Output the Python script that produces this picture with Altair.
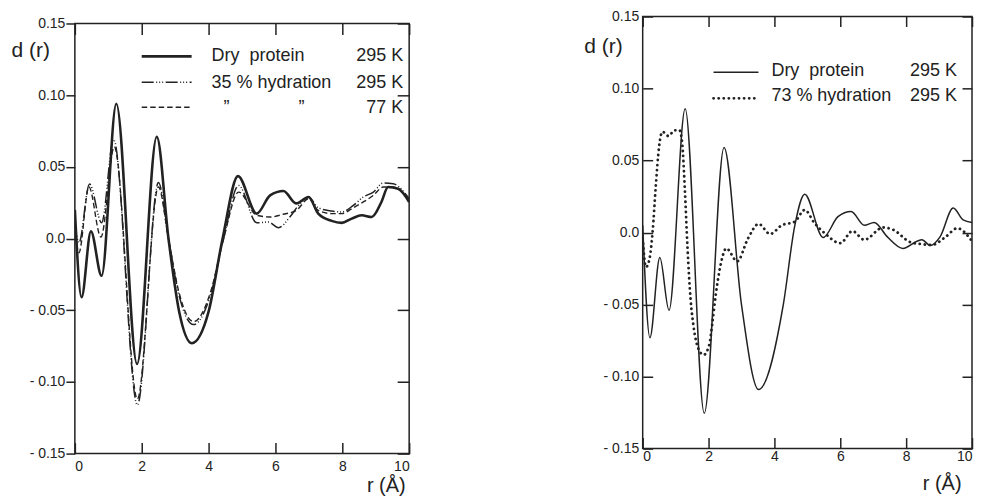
import altair as alt
import pandas as pd

# ---------------- data ----------------
# Left panel
left_dry_r = [0.0, 0.2, 0.48, 0.8, 1.24, 1.86, 2.45, 2.8, 3.12, 3.5, 4.0, 4.42, 4.88,
              5.44, 5.84, 6.24, 6.62, 6.99, 7.28, 7.68, 7.98, 8.28, 8.58, 8.88, 9.17,
              9.37, 9.67, 10.0]
left_dry_d = [0.020, -0.041, 0.005, -0.026, 0.094, -0.0875, 0.071, 0.0, -0.051, -0.073,
              -0.051, 0.0, 0.0435, 0.0174, 0.0301, 0.0331, 0.0245, 0.029, 0.0174, 0.0123,
              0.0109, 0.0139, 0.0162, 0.015, 0.0255, 0.0359, 0.0347, 0.0255]

left_h295_r = [0.0, 0.12, 0.44, 0.8, 1.16, 1.87, 2.5, 2.8, 3.12, 3.55, 4.05, 4.45, 4.9,
               5.44, 5.79, 6.09, 6.43, 6.69, 6.99, 7.28, 7.68, 7.98, 8.33, 8.63, 8.93,
               9.22, 9.52, 10.0]
left_h295_d = [0.012, -0.003, 0.038, 0.011, 0.069, -0.116, 0.039, 0.0, -0.040, -0.060,
               -0.040, 0.0, 0.037, 0.011, 0.0115, 0.0076, 0.015, 0.023, 0.029, 0.0215,
               0.0192, 0.0185, 0.0231, 0.029, 0.0324, 0.0387, 0.0382, 0.0278]

left_h77_r = [0.0, 0.12, 0.42, 0.78, 1.18, 1.87, 2.5, 2.8, 3.12, 3.55, 4.05, 4.45, 4.9,
              5.44, 5.84, 6.23, 6.63, 6.99, 7.28, 7.68, 7.98, 8.33, 8.63, 8.93, 9.22,
              9.52, 10.0]
left_h77_d = [0.008, -0.010, 0.036, 0.001, 0.064, -0.112, 0.036, 0.0, -0.038, -0.058,
              -0.038, 0.0, 0.0324, 0.0162, 0.015, 0.0169, 0.0197, 0.0278, 0.0197, 0.0174,
              0.0174, 0.0215, 0.0255, 0.0301, 0.0359, 0.0359, 0.0266]

# Right panel
right_dry_r = [0.0, 0.22, 0.52, 0.8, 1.29, 1.87, 2.47, 3.0, 3.52, 4.27, 4.62, 4.92, 5.48,
               5.93, 6.33, 6.73, 7.03, 7.43, 7.9, 8.33, 8.48, 8.73, 9.03, 9.43, 9.73, 10.0]
right_dry_d = [0.005, -0.073, -0.0174, -0.054, 0.086, -0.1255, 0.059, -0.05, -0.109, -0.05,
               0.005, 0.0266, -0.0035, 0.011, 0.0146, 0.005, 0.007, -0.003, -0.011, -0.006,
               -0.005, -0.009, -0.003, 0.017, 0.0088, 0.007]

right_h73_r = [0.0, 0.1, 0.2, 0.3, 0.4, 0.5, 0.6, 0.78, 0.97, 1.12, 1.2, 1.28, 1.36, 1.45,
               1.55, 1.68, 1.85, 2.02, 2.12, 2.22, 2.37, 2.54, 2.87, 3.2, 3.52, 3.87, 4.22,
               4.62, 4.92, 5.22, 5.53, 6.0, 6.37, 6.73, 7.3, 7.6, 8.13, 8.45, 8.78, 9.2,
               9.55, 10.0]
right_h73_d = [-0.004, -0.024, -0.019, 0.0, 0.033, 0.060, 0.070, 0.067, 0.071, 0.071, 0.062,
               0.03, -0.01, -0.045, -0.066, -0.080, -0.085, -0.078, -0.062, -0.043, -0.022,
               -0.011, -0.020, -0.004, 0.006, -0.001, 0.005, 0.0076, 0.0157, 0.0065, -0.0005,
               -0.0074, 0.001, -0.005, 0.0035, 0.002, -0.0067, -0.008, -0.0086, -0.003, 0.003,
               -0.006]

x_ticks = [0, 2, 4, 6, 8, 10]
y_ticks = [-0.15, -0.10, -0.05, 0.0, 0.05, 0.10, 0.15]

left_legend_names = ["Dry\u00a0\u00a0protein", "35 % hydration", "\u201d", "\u201d"]
left_legend_temps = ["295 K", "295 K", "77 K"]
right_legend_names = ["Dry\u00a0\u00a0protein", "73 % hydration"]
right_legend_temps = ["295 K", "295 K"]

# ---------------- styling ----------------
INK = "#222222"
FONT = "Liberation Sans"
YLAB = ("abs(datum.value) < 1e-9 ? '0.0' : (datum.value < 0 ? '- ' + "
        "format(-datum.value, '.2f') : format(datum.value, '.2f'))")

xscale = alt.Scale(domain=[0, 10], nice=False, zero=False)
yscale = alt.Scale(domain=[-0.15, 0.15], nice=False, zero=False)


def curve(r, d, width, dash=None, cap="butt"):
    kw = dict(interpolate="monotone", stroke=INK, strokeWidth=width, strokeCap=cap,
              strokeJoin="round", clip=True)
    if dash is not None:
        kw["strokeDash"] = dash
    return alt.Chart(pd.DataFrame({"r": r, "d": d})).mark_line(**kw).encode(
        x=alt.X("r:Q", scale=xscale, axis=None),
        y=alt.Y("d:Q", scale=yscale, axis=None),
    )


def axes_layer(r, d, xaxis, yaxis):
    return alt.Chart(pd.DataFrame({"r": r, "d": d})).mark_point(opacity=0, size=1).encode(
        x=alt.X("r:Q", scale=xscale, axis=xaxis),
        y=alt.Y("d:Q", scale=yscale, axis=yaxis),
    )


def label(s, x, y, align="left", size=18):
    return alt.Chart(pd.DataFrame({"t": [s]})).mark_text(
        align=align, baseline="middle", font=FONT, fontSize=size, color=INK
    ).encode(x=alt.value(x), y=alt.value(y), text="t:N")


def sample(x1, x2, y, width, dash=None, cap="butt"):
    kw = dict(stroke=INK, strokeWidth=width, strokeCap=cap)
    if dash is not None:
        kw["strokeDash"] = dash
    return alt.Chart(pd.DataFrame({"t": [0]})).mark_rule(**kw).encode(
        x=alt.value(x1), x2=alt.value(x2), y=alt.value(y))


def bottom_axis(off, tick, pad, tx, ty, flush=False):
    kw = dict(orient="bottom", values=x_ticks, format="d", offset=-off, tickSize=tick,
              tickWidth=1.5, tickColor=INK, domain=False, grid=False, labelFont=FONT,
              labelFontSize=14, labelColor=INK, labelPadding=pad, title="r (\u00c5)",
              titleFont=FONT, titleFontSize=20, titleFontWeight="normal", titleColor=INK,
              titleAlign="right", titleBaseline="alphabetic", titleX=tx, titleY=ty)
    if flush:
        kw["labelFlush"] = True
    return alt.Axis(**kw)


def left_axis(off, tick, pad, tx, ty):
    return alt.Axis(orient="left", values=y_ticks, labelExpr=YLAB, offset=-off, tickSize=tick,
                    tickWidth=1.5, tickColor=INK, domain=False, grid=False, labelFont=FONT,
                    labelFontSize=14, labelColor=INK, labelPadding=pad, title="d (r)",
                    titleFont=FONT, titleFontSize=21, titleFontWeight="normal",
                    titleColor=INK, titleAngle=0, titleAlign="left",
                    titleBaseline="middle", titleX=tx, titleY=ty)


def top_axis(tick):
    return alt.Axis(orient="top", values=x_ticks, labels=False, offset=-tick, tickSize=tick,
                    tickWidth=1.5, tickColor=INK, domain=False, grid=False, title=None)


def right_axis(tick):
    return alt.Axis(orient="right", values=y_ticks, labels=False, offset=-tick, tickSize=tick,
                    tickWidth=1.5, tickColor=INK, domain=False, grid=False, title=None)


# ---------------- left panel ----------------
LW, LH = 335, 431
left = alt.layer(
    axes_layer(left_dry_r, left_dry_d, bottom_axis(11, 11, 6, 331, 49), left_axis(0, 9, 1, -64, 27)),
    axes_layer(left_dry_r, left_dry_d, top_axis(11), right_axis(12)),
    curve(left_h77_r, left_h77_d, 1.4, [5.5, 3]),
    curve(left_h295_r, left_h295_d, 1.5, [12, 2.5, 1, 2, 1, 2, 1, 2.5]),
    curve(left_dry_r, left_dry_d, 2.6),
    sample(67, 117, 33, 2.6),
    sample(67, 117, 59, 1.5, [12, 2.5, 1, 2, 1, 2, 1, 2.5]),
    sample(67, 117, 84, 1.4, [5.5, 3]),
    label(left_legend_names[0], 137, 33),
    label(left_legend_names[1], 137, 60),
    label(left_legend_names[2], 149, 85),
    label(left_legend_names[3], 224, 85),
    label(left_legend_temps[0], 329, 33, "right"),
    label(left_legend_temps[1], 329, 60, "right"),
    label(left_legend_temps[2], 329, 85, "right"),
).resolve_axis(x="independent", y="independent").properties(width=LW, height=LH)

# invisible spacer that lowers the left panel a little, as in the scan
spacer = alt.Chart(pd.DataFrame({"t": [0]})).mark_point(opacity=0, size=1).encode(
    x=alt.value(0), y=alt.value(0)
).properties(width=1, height=1, view=alt.ViewBackground(strokeOpacity=0))

left_col = alt.vconcat(spacer, left, spacing=6, bounds="flush")

# ---------------- right panel ----------------
RW, RH = 330, 433
right = alt.layer(
    axes_layer(right_dry_r, right_dry_d, bottom_axis(11, 11, 1, 319, 52, flush=True),
               left_axis(10, 10, 4, -69, 30)),
    axes_layer(right_dry_r, right_dry_d, top_axis(10), right_axis(10)),
    curve(right_h73_r, right_h73_d, 2.8, [0.1, 5], "round"),
    curve(right_dry_r, right_dry_d, 1.5),
    sample(71, 116, 56, 1.5),
    sample(71, 116, 82, 2.8, [0.1, 5], "round"),
    label(right_legend_names[0], 129, 55),
    label(right_legend_names[1], 129, 80),
    label(right_legend_temps[0], 315, 55, "right"),
    label(right_legend_temps[1], 315, 80, "right"),
).resolve_axis(x="independent", y="independent").properties(width=RW, height=RH)

chart = alt.hconcat(left_col, right, spacing=172).properties(
    padding={"left": 2, "top": 0, "right": 0, "bottom": 0},
    background="white",
).configure_view(stroke=INK, strokeWidth=1.5)

chart.save("out.html", embed_options={"renderer": "svg", "actions": False})
